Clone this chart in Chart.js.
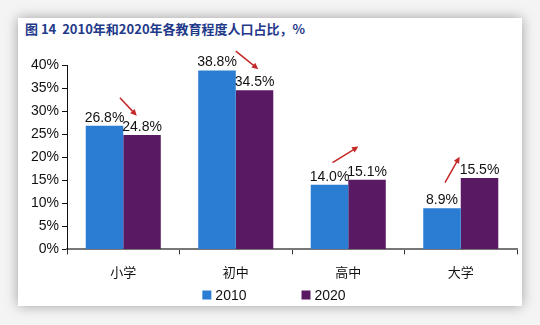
<!DOCTYPE html>
<html>
<head>
<meta charset="utf-8">
<script src="https://cdn.jsdelivr.net/npm/chart.js@4.4.1/dist/chart.umd.min.js"></script>
<style>
  html, body { margin: 0; padding: 0; background: #f4f4f4; }
  body { width: 540px; height: 325px; position: relative; overflow: hidden; }
  .card {
    position: absolute; left: 18px; top: 18px; width: 504px; height: 288px;
    background: #fff; box-shadow: 0 0 12px rgba(0,0,0,0.35);
  }
  .title {
    position: absolute; left: 7px; top: 1px;
    font: bold 13px "Noto Sans CJK SC", "Noto Sans", sans-serif; color: #1f3a8a;
  }
  canvas { position: absolute; left: 0; top: 0; }
</style>
</head>
<body>
<div class="card">
  <div class="title">图 14&nbsp; 2010年和2020年各教育程度人口占比，%</div>
  <canvas id="chart" width="504" height="288"></canvas>
</div>
<script>
// Data
const categories = ['小学', '初中', '高中', '大学'];
const series2010 = [26.8, 38.8, 14.0, 8.9];
const series2020 = [24.8, 34.5, 15.1, 15.5];
const yTicks = [0, 5, 10, 15, 20, 25, 30, 35, 40];
// arrows in data space: [startIndex, startValue, endIndex, endValue]
const arrows = [
  [-0.03, 32.9, 0.12, 29.0],
  [1.00, 43.0, 1.20, 39.1],
  [1.86, 18.8, 2.09, 22.3],
  [2.86, 14.5, 2.99, 20.1]
];

const FONT = '"Noto Sans CJK SC", "Liberation Sans", sans-serif';
const NUMFONT = '"Liberation Sans", Arial, sans-serif';

// value labels above bars + red arrows
const labelPlugin = {
  id: 'labels',
  afterDatasetsDraw(chart) {
    const ctx = chart.ctx;
    ctx.save();
    ctx.font = '14px ' + NUMFONT;
    ctx.fillStyle = '#111';
    ctx.textAlign = 'center';
    ctx.textBaseline = 'bottom';
    chart.data.datasets.forEach((ds, di) => {
      chart.getDatasetMeta(di).data.forEach((bar, i) => {
        ctx.fillText(ds.data[i].toFixed(1) + '%', bar.x, bar.y - 1);
      });
    });
    const xs = chart.scales.x, ys = chart.scales.y;
    const px = v => xs.getPixelForValue(0) + v * (xs.getPixelForValue(1) - xs.getPixelForValue(0));
    ctx.strokeStyle = '#c62828';
    ctx.fillStyle = '#c62828';
    ctx.lineWidth = 1.5;
    arrows.forEach(a => {
      const x1 = px(a[0]), y1 = ys.getPixelForValue(a[1]);
      const x2 = px(a[2]), y2 = ys.getPixelForValue(a[3]);
      const ang = Math.atan2(y2 - y1, x2 - x1);
      const hl = 7;
      ctx.beginPath();
      ctx.moveTo(x1, y1);
      ctx.lineTo(x2 - Math.cos(ang) * hl * 0.8, y2 - Math.sin(ang) * hl * 0.8);
      ctx.stroke();
      ctx.beginPath();
      ctx.moveTo(x2, y2);
      ctx.lineTo(x2 - hl * Math.cos(ang - 0.45), y2 - hl * Math.sin(ang - 0.45));
      ctx.lineTo(x2 - hl * Math.cos(ang + 0.45), y2 - hl * Math.sin(ang + 0.45));
      ctx.closePath();
      ctx.fill();
    });
    ctx.restore();
  }
};

// legend with wide gap between items, as in the original
const legendPlugin = {
  id: 'wideLegend',
  afterDraw(chart) {
    const ctx = chart.ctx;
    const gap = 55, box = 9;
    ctx.save();
    ctx.font = '14px ' + NUMFONT;
    const items = chart.data.datasets.map(ds => ({ label: ds.label, color: ds.backgroundColor, w: ctx.measureText(ds.label).width }));
    const total = items.reduce((s, it) => s + box + 4 + it.w, 0) + gap * (items.length - 1);
    let x = chart.width / 2 + 4 - total / 2;
    const y = chart.height - 11;
    ctx.textBaseline = 'middle';
    items.forEach(it => {
      ctx.fillStyle = it.color;
      ctx.fillRect(x, y - box / 2, box, box);
      ctx.fillStyle = '#111';
      ctx.fillText(it.label, x + box + 4, y + 1);
      x += box + 4 + it.w + gap;
    });
    ctx.restore();
  }
};

new Chart(document.getElementById('chart'), {
  type: 'bar',
  data: {
    labels: categories,
    datasets: [
      { label: '2010', data: series2010, backgroundColor: '#2a7dd2' },
      { label: '2020', data: series2020, backgroundColor: '#5a1a63' }
    ]
  },
  options: {
    responsive: false,
    animation: false,
    layout: { padding: { left: 10, right: 5, top: 47, bottom: 16 } },
    datasets: { bar: { categoryPercentage: 0.667, barPercentage: 1.0 } },
    plugins: {
      legend: { display: false },
      tooltip: { enabled: false }
    },
    scales: {
      x: {
        grid: { display: true, drawOnChartArea: false, offset: true, tickLength: 5, color: '#333' },
        border: { color: '#777', width: 2 },
        ticks: { color: '#111', font: { family: FONT, size: 13 }, padding: 10 }
      },
      y: {
        min: 0, max: 40,
        afterBuildTicks: axis => { axis.ticks = yTicks.map(v => ({ value: v })); },
        grid: { display: true, drawOnChartArea: false, tickLength: 5, color: '#111' },
        border: { color: '#111', width: 1 },
        ticks: { color: '#111', font: { family: NUMFONT, size: 14 }, padding: 3,
                 callback: v => v + '%' }
      }
    }
  },
  plugins: [labelPlugin, legendPlugin]
});
</script>
</body>
</html>
